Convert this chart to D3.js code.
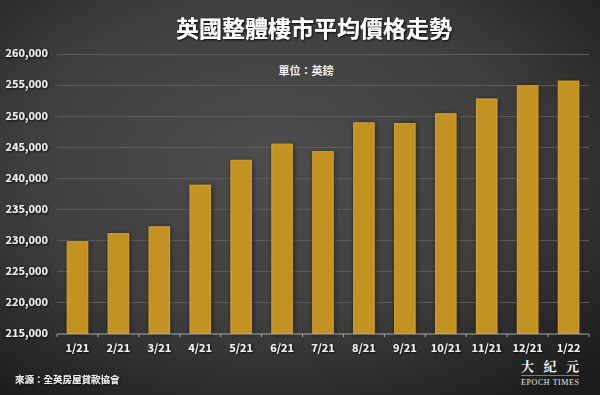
<!DOCTYPE html>
<html>
<head>
<meta charset="utf-8">
<script src="https://cdn.jsdelivr.net/npm/d3@7"></script>
<style>
  body { margin: 0; background: #222; }
  svg { display: block; }
  text { font-family: "Noto Sans CJK TC", "Noto Sans", sans-serif; }
</style>
</head>
<body>
<div id="chart"></div>
<script>
// data
const months = ["1/21", "2/21", "3/21", "4/21", "5/21", "6/21", "7/21", "8/21", "9/21", "10/21", "11/21", "12/21", "1/22"];
const prices = [229748, 231068, 232134, 238831, 242832, 245432, 244229, 248857, 248742, 250311, 252687, 254822, 255556];
const yTicks = [215000, 220000, 225000, 230000, 235000, 240000, 245000, 250000, 255000, 260000];

const width = 600, height = 395;

const svg = d3.select("#chart").append("svg")
    .attr("width", width)
    .attr("height", height);

const defs = svg.append("defs");
const bg = defs.append("radialGradient")
    .attr("id", "bg")
    .attr("cx", "45%").attr("cy", "40%").attr("r", "75%");
bg.append("stop").attr("offset", "0%").attr("stop-color", "#4d4d4d");
bg.append("stop").attr("offset", "55%").attr("stop-color", "#3e3e3e");
bg.append("stop").attr("offset", "100%").attr("stop-color", "#1c1c1c");

const shadow = defs.append("filter").attr("id", "shadow")
    .attr("x", "-30%").attr("y", "-30%").attr("width", "160%").attr("height", "160%");
shadow.append("feDropShadow")
    .attr("dx", 1).attr("dy", 1).attr("stdDeviation", 2)
    .attr("flood-color", "#1a1c28").attr("flood-opacity", 0.8);

const textShadow = defs.append("filter").attr("id", "tshadow");
textShadow.append("feDropShadow")
    .attr("dx", 1).attr("dy", 1).attr("stdDeviation", 0.8)
    .attr("flood-color", "#000").attr("flood-opacity", 0.9);

svg.append("rect").attr("width", width).attr("height", height).attr("fill", "url(#bg)");

const x = d3.scaleBand()
    .domain(months)
    .range([57, 589])
    .paddingInner(0.5)
    .paddingOuter(0.25);

const y = d3.scaleLinear()
    .domain([215000, 260000])
    .range([333.5, 53.5]);

// grid
svg.append("g")
    .selectAll("line")
    .data(yTicks.slice(1))
    .join("line")
    .attr("x1", 57).attr("x2", 589)
    .attr("y1", d => Math.round(y(d)) + 0.5)
    .attr("y2", d => Math.round(y(d)) + 0.5)
    .attr("stroke", "#5c5c5c")
    .attr("stroke-width", 1);

// y labels
svg.append("g")
    .selectAll("text")
    .data(yTicks)
    .join("text")
    .attr("x", 48)
    .attr("y", d => y(d))
    .attr("dy", "0.35em")
    .attr("text-anchor", "end")
    .attr("fill", "#ececec")
    .attr("font-size", 11)
    .attr("font-weight", "bold")
    .attr("filter", "url(#tshadow)")
    .text(d => d3.format(",")(d));

// bars
svg.append("g")
    .selectAll("rect")
    .data(months)
    .join("rect")
    .attr("x", d => x(d))
    .attr("y", (d, i) => y(prices[i]))
    .attr("width", x.bandwidth())
    .attr("height", (d, i) => y(215000) - y(prices[i]))
    .attr("fill", "#c39222")
    .attr("stroke", "#d3a22e")
    .attr("stroke-width", 1)
    .attr("filter", "url(#shadow)");

// x axis
const xAxis = svg.append("g");
xAxis.append("line")
    .attr("x1", 57).attr("x2", 589)
    .attr("y1", 334).attr("y2", 334)
    .attr("stroke", "#a8a8a8")
    .attr("stroke-width", 1.2);

xAxis.selectAll("line.tick")
    .data(months.concat(["end"]))
    .join("line")
    .attr("class", "tick")
    .attr("x1", (d, i) => 57 + i * x.step())
    .attr("x2", (d, i) => 57 + i * x.step())
    .attr("y1", 334).attr("y2", 337)
    .attr("stroke", "#a8a8a8");

xAxis.selectAll("text")
    .data(months)
    .join("text")
    .attr("x", d => x(d) + x.bandwidth() / 2)
    .attr("y", 352)
    .attr("text-anchor", "middle")
    .attr("fill", "#f2f2f2")
    .attr("font-size", 11)
    .attr("font-weight", "bold")
    .attr("filter", "url(#tshadow)")
    .text(d => d);

// title
svg.append("text")
    .attr("x", 314)
    .attr("y", 37)
    .attr("text-anchor", "middle")
    .attr("fill", "#ffffff")
    .attr("font-size", 23)
    .attr("font-weight", "bold")
    .attr("filter", "url(#tshadow)")
    .text("英國整體樓市平均價格走勢");

svg.append("text")
    .attr("x", 306)
    .attr("y", 75)
    .attr("text-anchor", "middle")
    .attr("fill", "#f0f0f0")
    .attr("font-size", 11)
    .attr("font-weight", "bold")
    .text("單位：英鎊");

// source
svg.append("text")
    .attr("x", 15)
    .attr("y", 383)
    .attr("fill", "#f0f0f0")
    .attr("font-size", 9.5)
    .attr("font-weight", "bold")
    .attr("filter", "url(#tshadow)")
    .text("來源：全英房屋貸款協會");

// logo
svg.append("text")
    .attr("x", 550)
    .attr("y", 371)
    .attr("text-anchor", "middle")
    .attr("fill", "#ffffff")
    .attr("font-size", 13)
    .attr("font-weight", "bold")
    .attr("textLength", 58)
    .style("font-family", "\"Noto Serif CJK TC\", \"Noto Sans CJK TC\", serif")
    .text("大紀元");
svg.append("line")
    .attr("x1", 521).attr("x2", 579)
    .attr("y1", 375.5).attr("y2", 375.5)
    .attr("stroke", "#bbbbbb").attr("stroke-width", 0.6);
svg.append("text")
    .attr("x", 550)
    .attr("y", 385)
    .attr("text-anchor", "middle")
    .attr("fill", "#e8e8e8")
    .attr("font-size", 8)
    .style("font-family", "\"Liberation Serif\", \"DejaVu Serif\", serif")
    .attr("textLength", 58)
    .text("EPOCH TIMES");
</script>
</body>
</html>
